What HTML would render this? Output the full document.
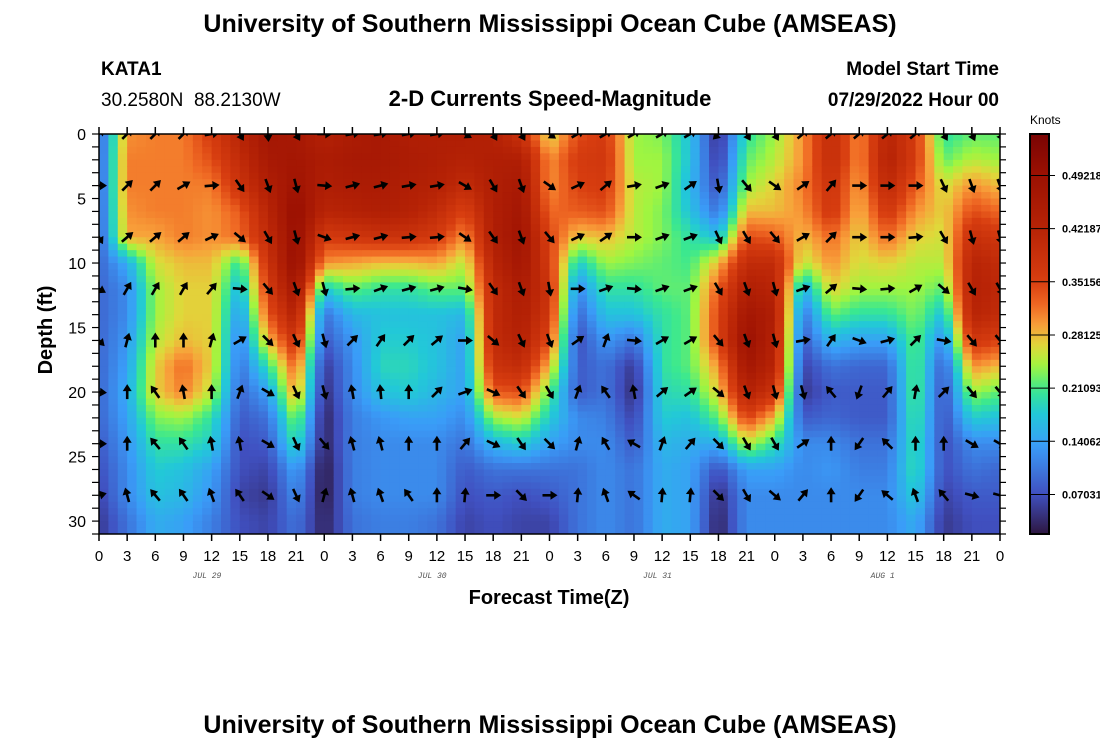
<!DOCTYPE html>
<html><head><meta charset="utf-8"><style>
html,body{margin:0;padding:0;background:#fff;}
svg{display:block;font-family:"Liberation Sans",sans-serif;}
</style></head><body>
<svg id="chart" width="1100" height="750" viewBox="0 0 1100 750" xmlns="http://www.w3.org/2000/svg">
<defs>
<clipPath id="plotclip"><rect x="99" y="134" width="901" height="400"/></clipPath>
<linearGradient id="cbgrad" x1="0" y1="1" x2="0" y2="0"></linearGradient>
</defs>
<text x="550" y="32" text-anchor="middle" font-size="25" font-weight="bold">University of Southern Mississippi Ocean Cube (AMSEAS)</text>
<text x="101" y="75" font-size="19" font-weight="bold">KATA1</text>
<text x="101" y="106" font-size="19">30.2580N&#160;&#160;88.2130W</text>
<text x="550" y="106" text-anchor="middle" font-size="22" font-weight="bold">2-D Currents Speed-Magnitude</text>
<text x="999" y="75" text-anchor="end" font-size="19" font-weight="bold">Model Start Time</text>
<text x="999" y="106" text-anchor="end" font-size="19" font-weight="bold">07/29/2022 Hour 00</text>
<g id="heat" clip-path="url(#plotclip)"></g>
<g id="arrows" clip-path="url(#plotclip)"></g>
<rect x="99" y="134" width="901" height="400" fill="none" stroke="#000" stroke-width="1.5"/>
<g id="axes"></g>
<text x="549" y="604" text-anchor="middle" font-size="20" font-weight="bold">Forecast Time(Z)</text>
<text transform="translate(52,330) rotate(-90)" text-anchor="middle" font-size="20" font-weight="bold">Depth (ft)</text>
<text x="1030" y="124" font-size="12">Knots</text>
<g id="cbar"></g>
<text x="550" y="733" text-anchor="middle" font-size="25" font-weight="bold">University of Southern Mississippi Ocean Cube (AMSEAS)</text>
</svg>
<script>
const NS="http://www.w3.org/2000/svg";
const hours=[0,3,6,9,12,15,18,21,24,27,30,33,36,39,42,45,48,51,54,57,60,63,66,69,72,75,78,81,84,87,90,93,96];
const depths=[0,2,4,6,8,10,12,14,16,18,20,22,24,26,28,30];
const speed=[
[0.08,0.08,0.08,0.08,0.08,0.09,0.09,0.09,0.09,0.09,0.09,0.09,0.08,0.07,0.06,0.05],
[0.30,0.31,0.31,0.30,0.29,0.15,0.12,0.12,0.13,0.14,0.15,0.14,0.13,0.12,0.12,0.10],
[0.31,0.31,0.31,0.31,0.29,0.26,0.24,0.24,0.25,0.27,0.27,0.23,0.20,0.18,0.17,0.15],
[0.31,0.31,0.31,0.31,0.31,0.28,0.27,0.27,0.28,0.32,0.31,0.24,0.20,0.17,0.16,0.14],
[0.36,0.34,0.31,0.30,0.30,0.28,0.27,0.27,0.27,0.27,0.25,0.20,0.18,0.14,0.13,0.11],
[0.42,0.40,0.38,0.33,0.32,0.20,0.16,0.13,0.11,0.10,0.09,0.08,0.07,0.07,0.06,0.07],
[0.47,0.46,0.44,0.42,0.40,0.38,0.36,0.33,0.28,0.20,0.14,0.10,0.08,0.06,0.05,0.06],
[0.46,0.47,0.48,0.50,0.50,0.50,0.47,0.43,0.38,0.33,0.30,0.24,0.20,0.14,0.12,0.10],
[0.43,0.45,0.44,0.42,0.36,0.30,0.18,0.10,0.08,0.05,0.04,0.03,0.03,0.02,0.02,0.03],
[0.45,0.46,0.45,0.43,0.37,0.29,0.22,0.16,0.13,0.12,0.12,0.11,0.11,0.11,0.11,0.10],
[0.46,0.46,0.45,0.44,0.38,0.28,0.20,0.17,0.18,0.19,0.17,0.13,0.12,0.12,0.12,0.11],
[0.44,0.45,0.44,0.43,0.38,0.28,0.20,0.17,0.18,0.19,0.18,0.14,0.12,0.12,0.12,0.11],
[0.44,0.44,0.43,0.40,0.36,0.29,0.22,0.17,0.17,0.17,0.16,0.14,0.12,0.12,0.12,0.10],
[0.44,0.43,0.40,0.35,0.30,0.25,0.22,0.16,0.14,0.14,0.14,0.12,0.10,0.08,0.07,0.06],
[0.43,0.44,0.44,0.44,0.44,0.42,0.40,0.40,0.40,0.38,0.33,0.24,0.16,0.10,0.08,0.07],
[0.38,0.44,0.46,0.47,0.48,0.47,0.45,0.44,0.43,0.40,0.34,0.26,0.18,0.10,0.07,0.06],
[0.26,0.30,0.30,0.32,0.35,0.36,0.38,0.37,0.34,0.28,0.22,0.18,0.14,0.10,0.08,0.06],
[0.34,0.36,0.35,0.33,0.27,0.18,0.12,0.09,0.07,0.08,0.08,0.12,0.12,0.10,0.10,0.10],
[0.36,0.37,0.36,0.34,0.28,0.24,0.20,0.17,0.13,0.10,0.10,0.11,0.12,0.12,0.12,0.12],
[0.24,0.24,0.25,0.25,0.25,0.23,0.20,0.17,0.10,0.05,0.04,0.06,0.08,0.10,0.10,0.10],
[0.23,0.24,0.24,0.23,0.23,0.22,0.22,0.20,0.20,0.20,0.19,0.18,0.16,0.15,0.15,0.15],
[0.17,0.17,0.16,0.17,0.20,0.21,0.22,0.22,0.22,0.22,0.20,0.17,0.15,0.14,0.14,0.14],
[0.04,0.05,0.07,0.10,0.17,0.28,0.33,0.35,0.35,0.30,0.27,0.22,0.15,0.07,0.04,0.03],
[0.20,0.22,0.24,0.28,0.34,0.40,0.44,0.47,0.49,0.47,0.43,0.35,0.25,0.14,0.12,0.12],
[0.24,0.25,0.27,0.28,0.33,0.40,0.42,0.44,0.43,0.42,0.38,0.28,0.20,0.14,0.12,0.12],
[0.30,0.30,0.31,0.30,0.28,0.25,0.15,0.10,0.08,0.06,0.05,0.08,0.12,0.12,0.12,0.12],
[0.40,0.40,0.38,0.37,0.32,0.30,0.27,0.22,0.16,0.10,0.08,0.09,0.12,0.13,0.12,0.12],
[0.30,0.30,0.29,0.28,0.27,0.26,0.24,0.20,0.14,0.09,0.08,0.08,0.10,0.11,0.12,0.12],
[0.42,0.43,0.41,0.37,0.32,0.27,0.24,0.20,0.14,0.09,0.08,0.08,0.10,0.11,0.12,0.12],
[0.36,0.36,0.33,0.30,0.27,0.25,0.24,0.23,0.22,0.22,0.22,0.21,0.20,0.20,0.18,0.15],
[0.20,0.22,0.26,0.27,0.26,0.25,0.22,0.17,0.12,0.08,0.07,0.07,0.07,0.07,0.06,0.05],
[0.22,0.25,0.30,0.34,0.39,0.42,0.43,0.42,0.37,0.30,0.24,0.18,0.12,0.10,0.08,0.07],
[0.22,0.24,0.28,0.32,0.37,0.40,0.41,0.40,0.35,0.28,0.22,0.17,0.12,0.09,0.08,0.07]
];
const arrowDepths=[0,4,8,12,16,20,24,28];
const dirRow0=[45,45,45,45,80,150,175,150,90,80,80,80,80,120,150,150,125,60,60,60,60,60,225,150,150,50,50,50,50,50,150,155,155];
const dirRow1=[90,45,45,60,85,145,160,165,95,75,75,80,80,120,150,160,125,65,50,80,70,55,170,140,125,55,40,90,90,90,155,160,160];
const dirRow2=[150,50,50,50,65,130,150,165,110,75,75,85,85,125,145,160,140,65,55,90,70,70,155,150,140,60,45,90,90,85,150,165,165];
const dirRow3=[120,30,30,30,40,95,140,160,165,85,70,75,75,100,145,160,170,90,70,95,70,70,150,160,165,70,50,95,85,60,130,150,150];
const dirRow4=[135,15,0,0,15,60,135,155,165,45,35,45,50,90,130,155,160,55,20,95,60,60,140,160,165,80,35,110,75,45,100,140,140];
const dirRow5=[95,0,-35,-10,0,20,120,155,165,-10,-5,0,45,70,115,145,150,20,-35,-10,50,55,130,160,165,165,-40,200,40,10,45,140,140];
const dirRow6=[90,0,-40,-35,-10,-10,120,155,140,-15,-15,0,0,40,115,145,135,15,-30,-60,20,40,135,150,150,55,0,215,-45,0,0,120,120];
const dirRow7=[75,-15,-40,-35,-20,-35,125,155,15,-15,-20,-35,0,5,90,135,90,5,-20,-55,5,5,135,150,130,40,0,215,-50,-20,-40,105,105];
const directions=[dirRow0,dirRow1,dirRow2,dirRow3,dirRow4,dirRow5,dirRow6,dirRow7];
const hourLabels=["0","3","6","9","12","15","18","21","0","3","6","9","12","15","18","21","0","3","6","9","12","15","18","21","0","3","6","9","12","15","18","21","0"];
const dayLabels=["JUL 29","JUL 30","JUL 31","AUG 1"];
const depthTicks=[0,5,10,15,20,25,30];
const cbTicks=[0.07031,0.14062,0.21093,0.28125,0.35156,0.42187,0.49218];

const X0=99,X1=1000,Y0=134,Y1=534,HMAX=96,DMAX=31;
const VMIN=0.018,VMAX=0.547;
const xS=h=>X0+h*(X1-X0)/HMAX;
const yS=d=>Y0+d*(Y1-Y0)/DMAX;
const stops=[[0,"#2d1640"],[0.1,"#4050c0"],[0.22,"#3a9cf8"],[0.3,"#22c8d8"],[0.36,"#3ae890"],[0.42,"#a0f540"],[0.47,"#e0d83a"],[0.52,"#f8a03a"],[0.57,"#f06a24"],[0.63,"#d83e10"],[0.76,"#b82406"],[0.9,"#9a1002"],[1,"#7a0403"]];
function hex(c){return [parseInt(c.slice(1,3),16),parseInt(c.slice(3,5),16),parseInt(c.slice(5,7),16)];}
function cmap(v){
  let t=(v-VMIN)/(VMAX-VMIN);t=Math.max(0,Math.min(1,t));
  for(let i=1;i<stops.length;i++){
    if(t<=stops[i][0]){
      const a=hex(stops[i-1][1]),b=hex(stops[i][1]);
      const f=(t-stops[i-1][0])/(stops[i][0]-stops[i-1][0]);
      return "rgb("+a.map((x,j)=>Math.round(x+(b[j]-x)*f)).join(",")+")";
    }
  }
  return stops[stops.length-1][1];
}
function sample(h,d){
  const step=hours[1]-hours[0];
  let fi=Math.max(0,Math.min(hours.length-1,(h-hours[0])/step));
  const dstep=depths[1]-depths[0];
  let fj=Math.max(0,Math.min(depths.length-1,(d-depths[0])/dstep));
  const i0=Math.floor(fi),i1=Math.min(hours.length-1,i0+1),j0=Math.floor(fj),j1=Math.min(depths.length-1,j0+1);
  const a=fi-i0,b=fj-j0;
  return speed[i0][j0]*(1-a)*(1-b)+speed[i1][j0]*a*(1-b)+speed[i0][j1]*(1-a)*b+speed[i1][j1]*a*b;
}
const heat=document.getElementById("heat");
for(let h=0;h<HMAX;h++){
  for(let d=0;d<DMAX;d+=0.5){
    const r=document.createElementNS(NS,"rect");
    const x=xS(h),y=yS(d);
    r.setAttribute("x",x.toFixed(2));r.setAttribute("y",y.toFixed(2));
    r.setAttribute("width",(xS(h+1)-x+0.6).toFixed(2));r.setAttribute("height",(yS(d+0.5)-y+0.6).toFixed(2));
    r.setAttribute("fill",cmap(sample(h+0.5,d+0.25)));
    
    
    heat.appendChild(r);
  }
}
const arrows=document.getElementById("arrows");
arrowDepths.forEach((d,ri)=>{
  hours.forEach((h,ci)=>{
    const g=document.createElementNS(NS,"g");
    g.setAttribute("transform","translate("+xS(h).toFixed(1)+","+yS(d).toFixed(1)+") rotate("+directions[ri][ci]+")");
    
    
    const l=document.createElementNS(NS,"line");
    l.setAttribute("x1","0");l.setAttribute("y1","7");l.setAttribute("x2","0");l.setAttribute("y2","-2");
    l.setAttribute("stroke","#000");l.setAttribute("stroke-width","2.6");
    const p=document.createElementNS(NS,"path");
    p.setAttribute("d","M-4.5,-1 L0,-8 L4.5,-1 Z");p.setAttribute("fill","#000");
    g.appendChild(l);g.appendChild(p);arrows.appendChild(g);
  });
});
const axes=document.getElementById("axes");
function mk(tag,attrs,parent){
  const e=document.createElementNS(NS,tag);
  for(const k in attrs)e.setAttribute(k,attrs[k]);
  (parent||axes).appendChild(e);return e;
}
hours.forEach((h,i)=>{
  const x=xS(h);
  const t1=mk("line",{x1:x,y1:Y1,x2:x,y2:Y1+7,stroke:"#000","stroke-width":1.5});
  
  
  const t2=mk("line",{x1:x,y1:Y0,x2:x,y2:Y0-7,stroke:"#000","stroke-width":1.5});
  
  
  const lb=mk("text",{x:x,y:561,"text-anchor":"middle","font-size":15});
  lb.textContent=hourLabels[i];
  
  
});
dayLabels.forEach((s,i)=>{
  const t=mk("text",{x:xS(24*i+11.5),y:578,"text-anchor":"middle","font-size":8,"font-style":"italic","font-family":"Liberation Mono, monospace",fill:"#555"});
  t.textContent=s;
  
  
});
for(let d=0;d<=DMAX;d++){
  const y=yS(d);
  const a=mk("line",{x1:X0-7,y1:y,x2:X0,y2:y,stroke:"#000","stroke-width":1.2});
  
  
  const b=mk("line",{x1:X1,y1:y,x2:X1+6,y2:y,stroke:"#000","stroke-width":1.2});
  
  
}
depthTicks.forEach(d=>{
  const t=mk("text",{x:86,y:yS(d)+6,"text-anchor":"end","font-size":16});
  t.textContent=String(d);
  
  
});
const cb=document.getElementById("cbar");
const grad=document.getElementById("cbgrad");
for(let i=0;i<=40;i++){
  const s=document.createElementNS(NS,"stop");
  s.setAttribute("offset",(i/40).toFixed(3));
  s.setAttribute("stop-color",cmap(VMIN+(VMAX-VMIN)*i/40));
  grad.appendChild(s);
}
const CBX=1030,CBW=19;
const cbY=v=>Y1-(v-VMIN)/(VMAX-VMIN)*(Y1-Y0);
const cr=mk("rect",{x:CBX,y:Y0,width:CBW,height:Y1-Y0,fill:"url(#cbgrad)",stroke:"#000","stroke-width":2},cb);


cbTicks.forEach(v=>{
  const y=cbY(v);
  const l=mk("line",{x1:CBX,y1:y,x2:CBX+CBW+6,y2:y,stroke:"#000","stroke-width":1},cb);
  
  
  const t=mk("text",{x:1062,y:y+4,"font-size":11,"font-weight":"bold"},cb);
  t.textContent=v.toFixed(5);
  
  
});
</script>
</body></html>
